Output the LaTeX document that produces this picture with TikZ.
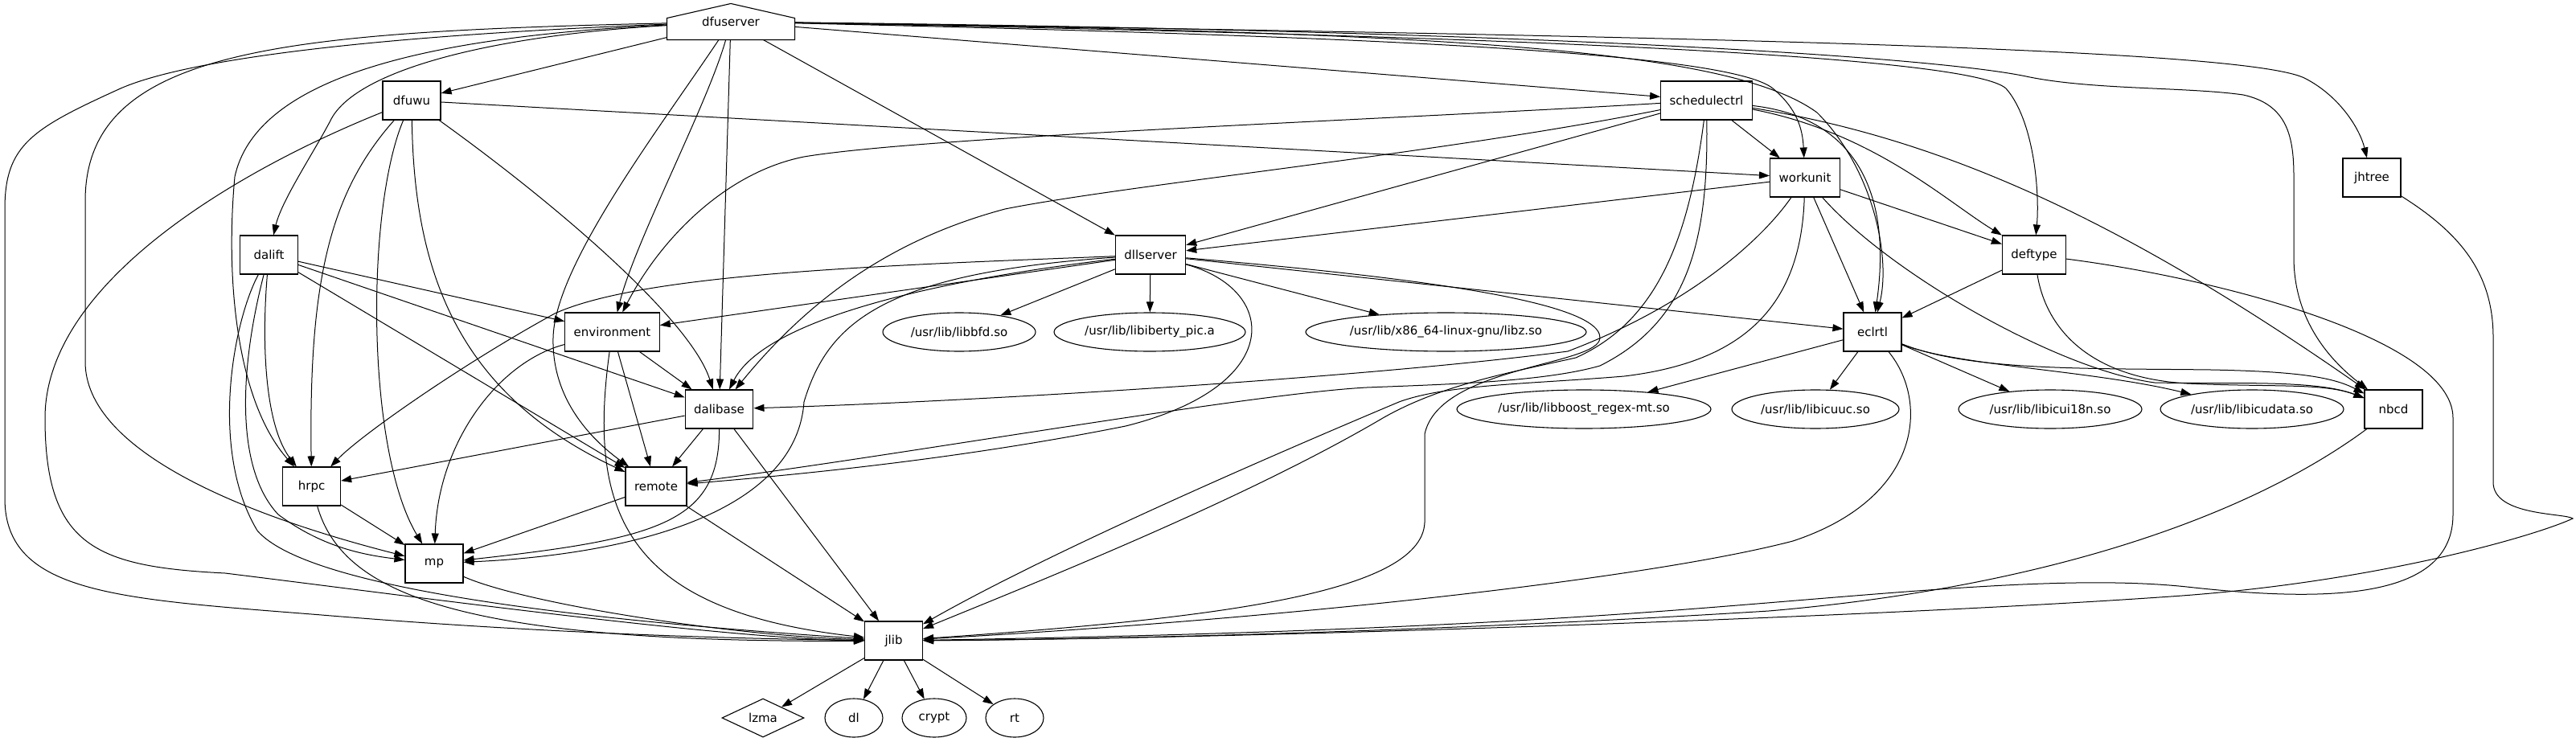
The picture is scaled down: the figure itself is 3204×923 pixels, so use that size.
\documentclass[tikz,border=0pt]{standalone}
\usepackage{fontspec}
\setmainfont{DejaVu Sans}
\usetikzlibrary{shapes.geometric,arrows.meta}

\begin{document}
\begin{tikzpicture}[x=1pt,y=-1pt,
    every node/.style={font=\fontsize{15}{18}\selectfont},
    box/.style={draw,line width=1.1pt,rectangle,minimum width=72pt,minimum height=48pt,inner xsep=11pt,inner ysep=0pt},
    lib/.style={draw,line width=1.1pt,ellipse,minimum width=#1,minimum height=48pt,inner sep=0pt},
    dep/.style={line width=1pt,-{Triangle[length=13pt,width=9pt]}}]
    \useasboundingbox (0,0) rectangle (3204,923);

    % rank 0 .. 2
    \node[box,draw=none,minimum width=158pt,minimum height=44pt] (dfuserver) at (909,27) {\raisebox{-3pt}{dfuserver}};
    \draw[line width=1.1pt] (dfuserver.south west) -- ([yshift=27pt]dfuserver.south west) -- (dfuserver.north)
        -- ([yshift=27pt]dfuserver.south east) -- (dfuserver.south east) -- cycle;
    \node[box] (dfuwu) at (512,125) {dfuwu};
    \node[box] (schedulectrl) at (2122.5,125) {schedulectrl};
    \node[box] (workunit) at (2245,221) {workunit};
    \node[box] (jhtree) at (2950,221) {jhtree};

    % rank 3 .. 5
    \node[box] (dalift) at (334.5,317) {dalift};
    \node[box] (dllserver) at (1431,317) {dllserver};
    \node[box] (deftype) at (2530,317) {deftype};
    \node[box] (environment) at (761.5,413) {environment};
    \node[lib=190pt] (libbfd) at (1193,413) {/usr/lib/libbfd.so};
    \node[lib=238pt] (libiberty) at (1430,413) {/usr/lib/libiberty\_pic.a};
    \node[lib=349pt] (libz) at (1798.5,413) {/usr/lib/x86\_64-linux-gnu/libz.so};
    \node[box] (eclrtl) at (2329,413) {eclrtl};
    \node[box] (dalibase) at (894.5,509) {dalibase};
    \node[lib=316pt] (libboost) at (1970,509) {/usr/lib/libboost\_regex-mt.so};
    \node[lib=208pt] (libicuuc) at (2258,509) {/usr/lib/libicuuc.so};
    \node[lib=228pt] (libicui18n) at (2550,509) {/usr/lib/libicui18n.so};
    \node[lib=228pt] (libicudata) at (2801,509) {/usr/lib/libicudata.so};
    \node[box] (nbcd) at (2977,509) {nbcd};

    % rank 6 .. 9
    \node[box] (hrpc) at (387.6,605) {hrpc};
    \node[box] (remote) at (816,605) {remote};
    \node[box] (mp) at (540,701) {mp};
    \node[box] (jlib) at (1111.5,797) {jlib};
    \node[draw,line width=1.1pt,diamond,aspect=2,minimum width=102pt,minimum height=48pt,inner sep=0pt] (lzma) at (949,893) {lzma};
    \node[lib=72pt] (dl) at (1062,893) {dl};
    \node[lib=80pt] (crypt) at (1162,893) {crypt};
    \node[lib=72pt] (rt) at (1262,893) {rt};

    % dfuserver
    \draw[dep] (dfuserver) -- (dfuwu);
    \draw[dep] (dfuserver) .. controls (600,45) and (440,90) .. (411,150) .. controls (390,190) and (350,250) .. (dalift);
    \draw[dep] (dfuserver) .. controls (450,45) and (230,75) .. (150,110) .. controls (40,160) and (6,180) .. (6,260)
        -- (6,620) .. controls (6,740) and (150,745) .. (400,765) .. controls (700,790) and (950,795) .. (jlib);
    \draw[dep] (dfuserver) .. controls (350,40) and (106,60) .. (106,250) -- (106,450) .. controls (106,560) and (300,640) .. (mp);
    \draw[dep] (dfuserver) .. controls (550,45) and (320,90) .. (292,220) .. controls (280,350) and (295,500) .. (hrpc);
    \draw[dep] (dfuserver) .. controls (820,160) and (690,330) .. (688,420) .. controls (686,500) and (740,550) .. (remote);
    \draw[dep] (dfuserver) .. controls (880,130) and (790,300) .. (environment);
    \draw[dep] (dfuserver) -- (dalibase);
    \draw[dep] (dfuserver) -- (dllserver);
    \draw[dep] (dfuserver) -- (schedulectrl);
    \draw[dep] (dfuserver) .. controls (1700,45) and (2150,65) .. (2205,110) .. controls (2235,135) and (2242,160) .. (workunit);
    \draw[dep] (dfuserver) .. controls (1800,40) and (2150,60) .. (2260,140) .. controls (2330,210) and (2352,320) .. (eclrtl);
    \draw[dep] (dfuserver) .. controls (1900,45) and (2450,70) .. (2495,110) .. controls (2530,150) and (2537,240) .. (deftype);
    \draw[dep] (dfuserver) .. controls (1900,38) and (2400,70) .. (2520,95) .. controls (2600,112) and (2720,108) .. (2790,118)
        .. controls (2845,130) and (2853,170) .. (2853,220) -- (2853,320) .. controls (2853,400) and (2900,450) .. (nbcd);
    \draw[dep] (dfuserver) .. controls (2100,45) and (2800,60) .. (2868,98) .. controls (2910,120) and (2935,160) .. (jhtree);

    % dfuwu
    \draw[dep] (dfuwu) -- (workunit);
    \draw[dep] (dfuwu) .. controls (300,210) and (56,350) .. (56,520) .. controls (56,680) and (120,705) .. (280,713)
        .. controls (500,740) and (900,795) .. (jlib);
    \draw[dep] (dfuwu) .. controls (410,240) and (384,350) .. (hrpc);
    \draw[dep] (dfuwu) .. controls (455,260) and (455,560) .. (mp);
    \draw[dep] (dfuwu) .. controls (515,340) and (570,490) .. (remote);
    \draw[dep] (dfuwu) .. controls (700,260) and (860,400) .. (dalibase);

    % dalift
    \draw[dep] (dalift) -- (environment);
    \draw[dep] (dalift) -- (dalibase);
    \draw[dep] (dalift) -- (remote);
    \draw[dep] (dalift) .. controls (325,430) and (330,530) .. (hrpc);
    \draw[dep] (dalift) .. controls (300,450) and (290,580) .. (346,640) .. controls (400,680) and (450,690) .. (mp);
    \draw[dep] (dalift) .. controls (290,400) and (260,560) .. (320,660) .. controls (380,730) and (700,770) .. (jlib);

    % schedulectrl
    \draw[dep] (schedulectrl) -- (workunit);
    \draw[dep] (schedulectrl) -- (dllserver);
    \draw[dep] (schedulectrl) .. controls (1700,150) and (1150,170) .. (1000,195) .. controls (900,215) and (820,300) .. (environment);
    \draw[dep] (schedulectrl) .. controls (1800,190) and (1400,230) .. (1250,260) .. controls (1100,300) and (1000,380) .. (dalibase);
    \draw[dep] (schedulectrl) .. controls (2330,165) and (2420,250) .. (deftype);
    \draw[dep] (schedulectrl) .. controls (2300,145) and (2355,230) .. (eclrtl);
    \draw[dep] (schedulectrl) .. controls (2400,170) and (2620,260) .. (nbcd);
    \draw[dep] (schedulectrl) .. controls (2100,300) and (2060,400) .. (1960,445) .. controls (1870,465) and (1790,480) .. (1720,520)
        .. controls (1550,620) and (1300,720) .. (jlib);
    \draw[dep] (schedulectrl) .. controls (2125,300) and (2100,400) .. (1990,455) .. controls (1920,475) and (1800,478) .. (1700,482)
        .. controls (1550,490) and (1100,570) .. (remote);

    % workunit
    \draw[dep] (workunit) -- (dllserver);
    \draw[dep] (workunit) -- (deftype);
    \draw[dep] (workunit) -- (eclrtl);
    \draw[dep] (workunit) .. controls (2350,340) and (2560,460) .. (2680,476) .. controls (2780,478) and (2880,472) .. (nbcd);
    \draw[dep] (workunit) .. controls (2190,300) and (2100,380) .. (1950,437) .. controls (1700,470) and (1200,500) .. (dalibase);
    \draw[dep] (workunit) .. controls (2240,380) and (2170,450) .. (2020,468) .. controls (1900,478) and (1800,478) .. (1740,500)
        .. controls (1550,580) and (1300,690) .. (jlib);

    % dllserver
    \draw[dep] (dllserver) -- (libbfd);
    \draw[dep] (dllserver) -- (libiberty);
    \draw[dep] (dllserver) -- (libz);
    \draw[dep] (dllserver) -- (environment);
    \draw[dep] (dllserver) -- (eclrtl);
    \draw[dep] (dllserver) .. controls (1100,330) and (800,340) .. (690,390) .. controls (580,450) and (450,540) .. (hrpc);
    \draw[dep] (dllserver) .. controls (1150,350) and (950,400) .. (dalibase);
    \draw[dep] (dllserver) .. controls (1100,340) and (1030,400) .. (1000,500) .. controls (990,640) and (780,690) .. (mp);
    \draw[dep] (dllserver) .. controls (1590,360) and (1600,480) .. (1400,530) .. controls (1200,570) and (1000,590) .. (remote);
    \draw[dep] (dllserver) .. controls (1700,340) and (1990,370) .. (1990,420) .. controls (1990,455) and (1790,455) .. (1772,540)
        -- (1772,650) .. controls (1768,740) and (1500,770) .. (jlib);

    % deftype, eclrtl
    \draw[dep] (deftype) -- (eclrtl);
    \draw[dep] (deftype) .. controls (2545,410) and (2600,470) .. (2720,477) .. controls (2830,482) and (2890,476) .. (nbcd);
    \draw[dep] (deftype) .. controls (2750,345) and (3051,420) .. (3051,520) -- (3051,640) .. controls (3051,745) and (2900,750) .. (2720,730)
        .. controls (2550,712) and (2300,745) .. (2000,765) .. controls (1700,785) and (1400,792) .. (jlib);
    \draw[dep] (eclrtl) -- (libboost);
    \draw[dep] (eclrtl) -- (libicuuc);
    \draw[dep] (eclrtl) -- (libicui18n);
    \draw[dep] (eclrtl) .. controls (2430,455) and (2600,460) .. (libicudata);
    \draw[dep] (eclrtl) .. controls (2450,462) and (2600,458) .. (2750,460) .. controls (2850,462) and (2900,468) .. (nbcd);
    \draw[dep] (eclrtl) .. controls (2400,500) and (2390,620) .. (2230,673) .. controls (2050,720) and (1600,770) .. (jlib);

    % nbcd, jhtree
    \draw[dep] (nbcd) .. controls (2800,640) and (2550,730) .. (2200,760) .. controls (1800,785) and (1400,795) .. (jlib);
    \draw[dep] (jhtree) .. controls (3060,290) and (3101,340) .. (3101,420) -- (3101,600) .. controls (3101,642) and (3190,638) .. (3200,645)
        .. controls (3150,668) and (2950,725) .. (2700,742) .. controls (2300,770) and (1500,795) .. (jlib);

    % environment, dalibase
    \draw[dep] (environment) -- (dalibase);
    \draw[dep] (environment) -- (remote);
    \draw[dep] (environment) .. controls (620,450) and (545,550) .. (mp);
    \draw[dep] (environment) .. controls (730,640) and (780,760) .. (jlib);
    \draw[dep] (dalibase) -- (hrpc);
    \draw[dep] (dalibase) -- (remote);
    \draw[dep] (dalibase) .. controls (895,650) and (820,670) .. (mp);
    \draw[dep] (dalibase) -- (jlib);

    % hrpc, remote, mp
    \draw[dep] (hrpc) -- (mp);
    \draw[dep] (hrpc) .. controls (425,735) and (560,800) .. (jlib);
    \draw[dep] (remote) -- (mp);
    \draw[dep] (remote) -- (jlib);
    \draw[dep] (mp) .. controls (650,750) and (900,790) .. (jlib);

    % jlib
    \draw[dep] (jlib) -- (lzma);
    \draw[dep] (jlib) -- (dl);
    \draw[dep] (jlib) -- (crypt);
    \draw[dep] (jlib) -- (rt);
\end{tikzpicture}
\end{document}
